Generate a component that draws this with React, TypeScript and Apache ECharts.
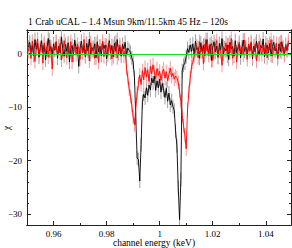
import React, { useEffect, useRef } from "react";
import * as echarts from "echarts";

const titleText = "1 Crab uCAL \u2013 1.4 Msun 9km/11.5km 45 Hz \u2013 120s";
const xLabelText = "channel energy (keV)";
const yLabelText = "\u03c7";

const energyStart = 0.9505;
const binWidth = 0.0005;

const blackChi = [
  1.2, 2.1, 0.3, 1.5, -0.4, 2.6, 0.8, 1.9, -0.7, 1.1, 2.4, 0.2, 1.6, -1.2, 0.9, 2.8, 0.5, 1.3, -0.2, 1.8,
  0.6, 2.2, -0.9, 1.4, 0.1, 3.1, 0.7, -0.5, 1.7, 0.4, 2.0, -1.6, 0.9, 1.5, -0.3, 2.5, 0.8, 1.2, -2.4, 1.0,
  2.3, 0.2, 1.4, -0.6, 1.9, 0.5, 2.7, -0.2, 1.1, 0.6, 1.8, -0.8, 2.2, 0.3, 1.3, -0.4, 2.0, 0.9, 1.6, -1.0,
  0.7, 2.4, 0.1, 1.5, -0.6, 1.9, 0.4, 2.6, 0.0, 1.2, -0.5, 1.7, 0.8, 2.1, -0.3, 1.0, 0.6, 0.2, -0.8, -1.6,
  -4.5, -12.0, -19.5, -19.8, -23.8, -17.0, -9.0, -7.6, -8.3, -6.4, -7.8, -5.9, -6.8, -4.6, -5.5, -4.2,
  -6.9, -5.1, -6.4, -4.8, -7.2, -5.6, -6.8, -8.2, -6.5, -8.9, -7.4, -9.6, -8.8, -9.9, -10.6, -14.5,
  -17.2, -25.0, -31.0, -23.5, -3.2, -2.2, -1.8, -0.6, 0.9, 0.2, 1.6, 0.4,
  1.8, -0.2, 2.3, 0.7, 1.1, -0.9, 2.0, 0.4, 1.5, -0.4, 2.6, 0.9, 0.1, 1.7, -1.3, 1.2, 2.2, 0.3, 1.4, -0.7,
  1.9, 0.6, 2.8, -0.1, 1.0, 0.5, 1.6, -1.1, 2.1, 0.8, 1.3, -0.5, 2.4, 0.2, 1.1, 1.8, -0.8, 0.9, 2.5, 0.4,
  1.2, -0.3, 1.7, 0.6, 2.0, -1.0, 1.4, 0.3, 2.3, 0.7, -0.2, 1.5, 1.0, 2.7, -0.6, 0.8, 1.6, 0.1, 1.9, -0.4,
  1.3, 2.1, 0.5, 1.0, -0.7, 1.8, 0.4, 2.2, 0.9, -0.1, 1.5, 0.6, 1.9,
];

const redChi = [
  0.4, 1.8, -0.9, 2.3, 0.6, -1.5, 1.2, 2.7, -0.3, 0.9, 1.6, -1.8, 2.0, 0.2, 1.1, -0.7, 2.5, 0.5, -2.9, 1.3,
  0.8, 2.1, -0.4, 1.0, 1.9, -1.2, 0.3, 2.4, 0.7, -0.8, 1.5, 0.1, 2.2, -1.6, 0.6, 1.4, -0.2, 1.7, 0.9, -1.1,
  1.6, 0.2, 2.6, -0.5, 0.8, 1.2, -1.4, 2.0, 0.4, 1.1, -0.9, 1.8, 0.3, -1.7, 1.4, 0.6, 2.3, -0.6, 0.9, 1.5,
  -0.3, 2.0, 0.5, -1.0, 1.3, 0.7, 2.2, -0.8, 0.4, 1.6, 0.0, 1.1, -0.5, 0.6,
  -2.8, -4.5, -6.6, -8.0, -9.6, -11.8, -13.3, -10.2, -7.4, -5.6, -4.0, -5.8, -3.2, -4.9, -2.6, -4.4,
  -3.0, -5.2, -2.4, -3.8, -2.1, -3.5, -4.7, -2.8, -4.1, -3.3, -5.0, -3.6, -2.9, -4.6, -3.4, -5.1,
  -3.9, -2.7, -4.3, -3.7, -4.8, -4.2, -4.5, -5.4, -7.0, -9.0, -11.6, -13.5, -15.2, -17.8, -10.5, -7.2,
  -4.6, -2.4, -1.6, -0.5, 0.6,
  1.4, -0.8, 2.2, 0.3, 1.0, -1.9, 1.7, 0.5, 2.6, -0.4, 0.8, 1.9, -1.3, 0.2, 1.5, 2.4, -0.7, 1.1, 0.4, -2.2,
  1.3, 0.7, 2.0, -0.5, 1.6, 0.1, 2.8, -0.9, 0.9, 1.4, -1.6, 0.6, 2.1, 0.2, 1.2, -0.3, 2.5, 0.8, -1.1, 1.7,
  0.4, 2.2, -0.6, 1.0, 1.8, -1.4, 0.5, 2.3, 0.9, -0.2, 1.5, 0.3, 2.0, -0.8, 1.2, 0.7, 2.6, -0.5, 1.1, 0.6,
  1.9, -1.0, 0.8, 2.1, 0.2, 1.3, -0.4, 1.7, 0.5, 2.4,
];

const blackErr = 1.3;
const redErr = 1.3;

const xMajorTicks = [0.96, 0.98, 1.0, 1.02, 1.04];
const xMinorTicks = [0.95, 0.97, 0.99, 1.01, 1.03];
const yMajorTicks = [-30, -20, -10, 0];
const yMinorTicks = [-28, -26, -24, -22, -18, -16, -14, -12, -8, -6, -4, -2, 2, 4];

const xMin = 0.95;
const xMax = 1.0495;
const yMin = -32;
const yMax = 4.385;
const modelLevel = 0;

const SERIF = '"Liberation Serif", "DejaVu Serif", serif';
const GREEN = "#1fdc1f";

export default function App() {
  const ref = useRef<HTMLDivElement>(null);

  useEffect(() => {
    if (!ref.current) return;
    const chart = echarts.init(ref.current, undefined, { renderer: "svg" });

    const energies = blackChi.map((_, i) => +(energyStart + binWidth * i).toFixed(5));

    const axisLineStyle = { color: "#222", width: 1 };

    const mkX = (position: string, ticks: number[], len: number, labels: boolean) => ({
      type: "value",
      position,
      min: xMin,
      max: xMax,
      axisLine: { show: true, onZero: false, lineStyle: axisLineStyle },
      axisTick: { show: true, inside: true, length: len, customValues: ticks, lineStyle: axisLineStyle },
      axisLabel: labels
        ? {
            show: true,
            customValues: ticks,
            margin: 4,
            fontSize: 9,
            fontFamily: SERIF,
            color: "#000",
            formatter: (v: number) => String(+v.toFixed(2)),
          }
        : { show: false },
      splitLine: { show: false },
    });

    const mkY = (position: string, ticks: number[], len: number, labels: boolean) => ({
      type: "value",
      position,
      min: yMin,
      max: yMax,
      axisLine: { show: true, onZero: false, lineStyle: axisLineStyle },
      axisTick: { show: true, inside: true, length: len, customValues: ticks, lineStyle: axisLineStyle },
      axisLabel: labels
        ? {
            show: true,
            customValues: ticks,
            margin: 5,
            fontSize: 9,
            fontFamily: SERIF,
            color: "#000",
            formatter: (v: number) => (v < 0 ? "\u2212" + Math.abs(v) : String(v)),
          }
        : { show: false },
      splitLine: { show: false },
    });

    const errSeries = (vals: number[], err: number, color: string) => ({
      type: "custom",
      xAxisIndex: 0,
      yAxisIndex: 0,
      clip: true,
      silent: true,
      data: vals.map((v, i) => [energies[i], v - err, v + err]),
      encode: { x: 0, y: [1, 2] },
      renderItem: (_p: any, api: any) => {
        const lo = api.coord([api.value(0), api.value(1)]);
        const hi = api.coord([api.value(0), api.value(2)]);
        return {
          type: "line",
          shape: { x1: lo[0], y1: lo[1], x2: hi[0], y2: hi[1] },
          style: { stroke: color, lineWidth: 1 },
        };
      },
    });

    const lineSeries = (vals: number[], color: string) => ({
      type: "line",
      xAxisIndex: 0,
      yAxisIndex: 0,
      showSymbol: false,
      symbol: "none",
      silent: true,
      clip: true,
      color,
      data: vals.map((v, i) => [energies[i], v]),
      itemStyle: { color },
      lineStyle: { color, width: 0.9 },
    });

    const modelSeries = {
      type: "custom",
      xAxisIndex: 0,
      yAxisIndex: 0,
      silent: true,
      clip: true,
      z: 30,
      data: [[xMin, xMax, modelLevel]],
      encode: { x: [0, 1], y: 2 },
      renderItem: (_p: any, api: any) => {
        const a = api.coord([api.value(0), api.value(2)]);
        const b = api.coord([api.value(1), api.value(2)]);
        const yy = Math.round(a[1]) + 0.5;
        return {
          type: "line",
          z2: 100,
          shape: { x1: a[0], y1: yy, x2: b[0], y2: yy },
          style: { stroke: GREEN, lineWidth: 1, opacity: 1 },
        };
      },
    };

    chart.setOption({
      animation: false,
      backgroundColor: "#fff",
      grid: {
        left: 27,
        right: 1,
        top: 30,
        bottom: 23,
        containLabel: false,
        outerBoundsMode: "none",
      },
      xAxis: [
        mkX("bottom", xMajorTicks, 4, true),
        mkX("bottom", xMinorTicks, 2, false),
        mkX("top", xMajorTicks, 4, false),
        mkX("top", xMinorTicks, 2, false),
      ],
      yAxis: [
        mkY("left", yMajorTicks, 4, true),
        mkY("left", yMinorTicks, 2, false),
        mkY("right", yMajorTicks, 4, false),
        mkY("right", yMinorTicks, 2, false),
      ],
      graphic: [
        {
          type: "text",
          x: 28,
          y: 22,
          style: {
            text: titleText,
            font: '9.5px "Liberation Serif", serif',
            fill: "#000",
            align: "left",
            verticalAlign: "middle",
          },
        },
        {
          type: "text",
          x: 154,
          y: 242.5,
          style: {
            text: xLabelText,
            font: '9.5px "Liberation Serif", serif',
            fill: "#000",
            align: "center",
            verticalAlign: "middle",
          },
        },
        {
          type: "text",
          x: 6,
          y: 128,
          rotation: Math.PI / 2,
          style: {
            text: yLabelText,
            font: '10px "Liberation Serif", serif',
            fill: "#000",
            align: "center",
            verticalAlign: "middle",
          },
        },
      ],
      series: [
        errSeries(blackChi, blackErr, "#a0a0a0"),
        lineSeries(blackChi, "#000000"),
        errSeries(redChi, redErr, "#f59a9a"),
        lineSeries(redChi, "#ff0000"),
        modelSeries,
      ],
    });

    return () => chart.dispose();
  }, []);

  return (
    <div
      ref={ref}
      style={{ position: "fixed", left: 0, top: 0, width: 292, height: 248 }}
    />
  );
}
